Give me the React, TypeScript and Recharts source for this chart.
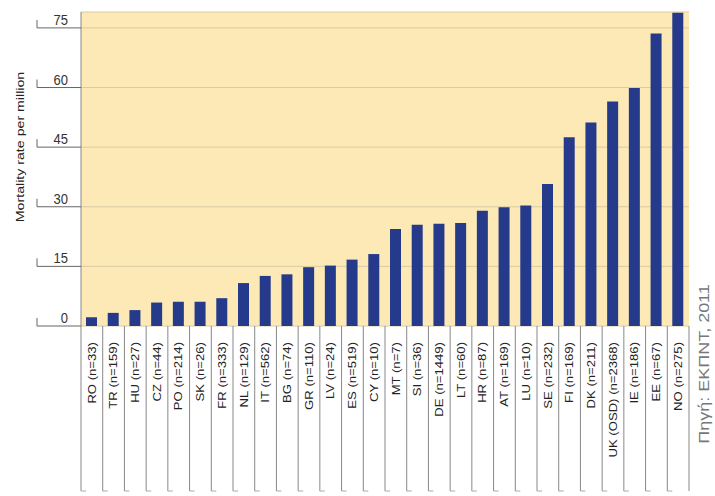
import { Bar, BarChart, CartesianGrid, XAxis, YAxis } from 'recharts';

const countries = [
  'RO (n=33)', 'TR (n=159)', 'HU (n=27)', 'CZ (n=44)', 'PO (n=214)', 'SK (n=26)',
  'FR (n=333)', 'NL (n=129)', 'IT (n=562)', 'BG (n=74)', 'GR (n=110)', 'LV (n=24)',
  'ES (n=519)', 'CY (n=10)', 'MT (n=7)', 'SI (n=36)', 'DE (n=1449)', 'LT (n=60)',
  'HR (n=87)', 'AT (n=169)', 'LU (n=10)', 'SE (n=232)', 'FI (n=169)', 'DK (n=211)',
  'UK (OSD) (n=2368)', 'IE (n=186)', 'EE (n=67)', 'NO (n=275)',
];
const mortality = [
  2.2, 3.3, 4.0, 5.9, 6.1, 6.1, 7.0, 10.8, 12.6, 13.0, 14.8, 15.2, 16.7, 18.1,
  24.4, 25.5, 25.7, 25.9, 29.0, 29.9, 30.3, 35.7, 47.5, 51.2, 56.5, 59.9, 73.6, 78.8,
];
const yTicks = [0, 15, 30, 45, 60, 75];
const yTitle = 'Mortality rate per million';
const source = 'Πηγή: ΕΚΠΝΤ, 2011';

const data = countries.map((name, i) => ({ name, rate: mortality[i] }));

const W = 715;
const H = 496;
const Y_W = 81;
const X_H = 170;
const margin = { top: 12, right: 26, bottom: 0, left: 0 };
const band = (W - Y_W - margin.right) / countries.length;
const FONT = '"Liberation Sans", Arial, sans-serif';

function YTick({ x, y, payload }: any) {
  return (
    <g>
      <line x1={x - 44} y1={y} x2={x} y2={y} stroke="#666" />
      <line x1={x - 44} y1={y - 8} x2={x - 44} y2={y} stroke="#666" />
      <text
        transform={`translate(${x - 13},${y - 3}) scale(1,1.15)`}
        textAnchor="end"
        fontSize={13}
        fill="#333"
        fontFamily={FONT}
      >
        {payload.value}
      </text>
    </g>
  );
}

function XTick({ x, y, payload, index }: any) {
  const left = x - band / 2;
  const right = x + band / 2;
  const bottom = 491;
  return (
    <g>
      <line x1={left} y1={y} x2={left} y2={bottom} stroke="#888" />
      <line x1={left} y1={bottom} x2={left + 5} y2={bottom} stroke="#aaa" />
      {index === countries.length - 1 && (
        <line x1={right} y1={y} x2={right} y2={bottom} stroke="#888" />
      )}
      <text
        transform={`translate(${x},${y + 16}) rotate(-90) scale(1.25,1)`}
        textAnchor="end"
        dy="0.35em"
        fontSize={10.5}
        fill="#222"
        fontFamily={FONT}
      >
        {payload.value}
      </text>
    </g>
  );
}

export default function App() {
  return (
    <div style={{ position: 'absolute', left: 0, top: 0, width: W, height: H, background: '#fff' }}>
      <BarChart width={W} height={H} data={data} margin={margin} barSize={11}>
        <CartesianGrid fill="#fce9b6" stroke="#d9cba3" vertical={false} />
        <XAxis
          dataKey="name"
          height={X_H}
          interval={0}
          tickSize={0}
          tickMargin={0}
          axisLine={false}
          tick={<XTick />}
        />
        <YAxis
          width={Y_W}
          domain={[0, 79]}
          ticks={yTicks}
          tickSize={0}
          tickMargin={0}
          axisLine={{ stroke: '#888' }}
          tick={<YTick />}
        />
        <Bar dataKey="rate" fill="#253a8a" isAnimationActive={false} />
      </BarChart>
      <svg
        width={W}
        height={H}
        style={{ position: 'absolute', left: 0, top: 0, pointerEvents: 'none' }}
      >
        <text
          transform="translate(20,147) rotate(-90) scale(1.35,1)"
          textAnchor="middle"
          dy="0.35em"
          fontSize={10.5}
          fill="#222"
          fontFamily={FONT}
        >
          {yTitle}
        </text>
        <text
          transform="translate(704,364) rotate(-90) scale(1.2,1)"
          textAnchor="middle"
          dy="0.35em"
          fontSize={15}
          fill="#777"
          fontFamily={FONT}
        >
          {source}
        </text>
      </svg>
    </div>
  );
}
